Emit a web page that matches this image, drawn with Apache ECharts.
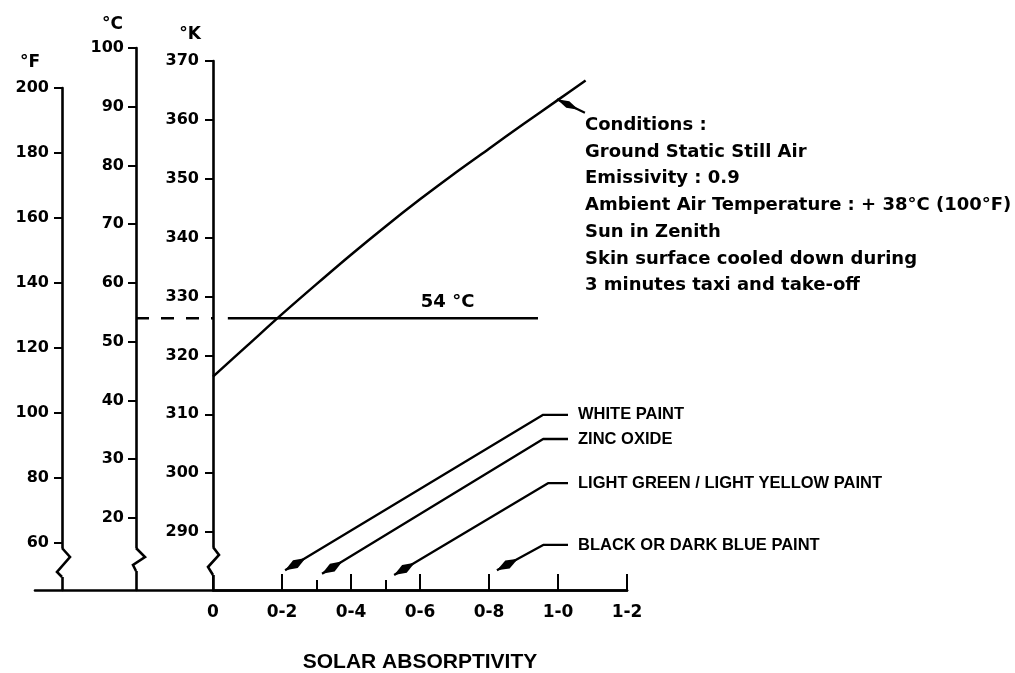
<!DOCTYPE html>
<html>
<head>
<meta charset="utf-8">
<script src="https://cdn.jsdelivr.net/npm/echarts@6/dist/echarts.min.js"></script>
<style>
html,body{margin:0;padding:0;background:#fff;}
#c{width:1015px;height:673px;}
</style>
</head>
<body>
<div id="c"></div>
<script>
// ---------- data ----------
const absorptivity = [0, 0.1, 0.2, 0.3, 0.4, 0.5, 0.6, 0.7, 0.8, 0.9, 1.0, 1.08];
const skinTempK    = [316.4, 321.7, 327.0, 332.1, 337.1, 341.9, 346.5, 350.9, 355.1, 359.3, 363.4, 366.7];

const fTicks = [60, 80, 100, 120, 140, 160, 180, 200];
const cTicks = [20, 30, 40, 50, 60, 70, 80, 90, 100];
const kTicks = [290, 300, 310, 320, 330, 340, 350, 360, 370];
const xTickValues = [0, 0.2, 0.4, 0.6, 0.8, 1.0, 1.2];
const xTickLabels = ['0', '0-2', '0-4', '0-6', '0-8', '1-0', '1-2'];
const xMinorTicks = [0.3, 0.5];

const limitC = 54;
const limitLabel = '54 °C';
const limitDashA = [-0.2232, 0];
const limitSolidA = [0.043, 0.942];

const calloutNames  = ['WHITE PAINT', 'ZINC OXIDE', 'LIGHT GREEN / LIGHT YELLOW PAINT', 'BLACK OR DARK BLUE PAINT'];
const calloutTipA   = [0.209, 0.316, 0.525, 0.823];
const calloutTipK   = [283.5, 282.9, 282.7, 283.5];
const calloutBendA  = [0.957, 0.957, 0.971, 0.957];
const calloutLevelK = [309.9, 305.8, 298.3, 287.8];
const calloutEndA   = 1.029;

const conditionsLines = [
  'Conditions :',
  'Ground Static Still Air',
  'Emissivity : 0.9',
  'Ambient Air Temperature : + 38°C (100°F)',
  'Sun in Zenith',
  'Skin surface cooled down during',
  '3 minutes taxi and take-off'
];
const conditionsArrowFrom = [1.078, 361.2];
const conditionsArrowTo   = [0.997, 363.5];
const xAxisTitle = 'SOLAR ABSORPTIVITY';

// ---------- layout ----------
const NUM_FONT = 'DejaVu Sans';
const LBL_FONT = 'Liberation Sans';
const X0 = 213, PX_PER_UNIT = 345, X_RIGHT = 627, BASE_Y = 590, W = 1015, H = 673;
const xMinFor = px => -(X0 - px) / PX_PER_UNIT;
const BLACK = '#000';

function yAx(gridIndex, min, max, ticks, name, nameGap, namePad, margin) {
  return {
    type: 'value', gridIndex, min, max, position: 'left',
    axisLine: { show: true, onZero: false, lineStyle: { color: BLACK, width: 2.6 } },
    axisTick: { show: true, customValues: ticks, length: 8, lineStyle: { color: BLACK, width: 2 } },
    axisLabel: { show: true, customValues: ticks, margin, color: BLACK, fontSize: 16, fontWeight: 'bold', fontFamily: NUM_FONT },
    splitLine: { show: false },
    name, nameLocation: 'end', nameGap,
    nameTextStyle: { align: 'right', padding: [0, namePad, 0, 0], color: BLACK, fontSize: 17, fontWeight: 'bold', fontFamily: NUM_FONT }
  };
}

const calloutSeries = calloutNames.map((n, i) => ({
  name: n, type: 'line', xAxisIndex: 0, yAxisIndex: 0, silent: true,
  symbol: 'none', smooth: false,
  lineStyle: { color: BLACK, width: 2.3 },
  data: [[calloutTipA[i], calloutTipK[i]], [calloutBendA[i], calloutLevelK[i]], [calloutEndA, calloutLevelK[i]]],
  endLabel: { show: true, formatter: '{a}', distance: 10, color: BLACK, fontSize: 16.5, fontWeight: 'bold', fontFamily: LBL_FONT }
}));

const option = {
  animation: false,
  backgroundColor: '#fff',
  grid: [
    { left: X0, right: W - X_RIGHT, top: 61, bottom: H - BASE_Y, outerBoundsMode: 'none' },
    { left: 136, right: W - X_RIGHT, top: 48, bottom: H - BASE_Y, outerBoundsMode: 'none' },
    { left: 62, right: W - X_RIGHT, top: 88, bottom: H - BASE_Y, outerBoundsMode: 'none' },
    { left: 35, right: W - X_RIGHT, top: BASE_Y - 10, bottom: H - BASE_Y, outerBoundsMode: 'none' }
  ],
  xAxis: [
    { type: 'value', gridIndex: 0, min: 0, max: 1.2, position: 'bottom',
      axisLine: { onZero: false, lineStyle: { color: BLACK, width: 2.6 } },
      axisTick: { customValues: xTickValues, inside: true, length: 16, lineStyle: { color: BLACK, width: 2 } },
      axisLabel: { customValues: xTickValues, margin: 14, color: BLACK, fontSize: 17, fontWeight: 'bold', fontFamily: NUM_FONT,
        formatter: v => { const k = xTickValues.findIndex(t => Math.abs(t - v) < 1e-6); return k >= 0 ? xTickLabels[k] : ''; } },
      splitLine: { show: false } },
    { type: 'value', gridIndex: 0, min: 0, max: 1.2, position: 'bottom',
      axisLine: { show: false, onZero: false },
      axisTick: { customValues: xMinorTicks, inside: true, length: 10, lineStyle: { color: BLACK, width: 2 } },
      axisLabel: { show: false }, splitLine: { show: false } },
    { type: 'value', gridIndex: 1, min: xMinFor(136), max: 1.2, show: false },
    { type: 'value', gridIndex: 2, min: 0, max: 1, show: false },
    { type: 'value', gridIndex: 3, min: 0, max: 1, position: 'bottom',
      axisLine: { onZero: false, lineStyle: { color: BLACK, width: 2.6 } },
      axisTick: { show: false }, axisLabel: { show: false }, splitLine: { show: false } }
  ],
  yAxis: [
    yAx(0, 280.15, 370, kTicks, '°K', 18, 12, 14),
    yAx(1, 7.74, 100, cTicks, '°C', 15, 13, 12),
    yAx(2, 45.54, 200, fTicks, '°F', 17, 22, 13),
    { type: 'value', gridIndex: 3, min: 0, max: 1, show: false }
  ],
  series: [
    { name: 'skin', type: 'line', xAxisIndex: 0, yAxisIndex: 0, silent: true,
      symbol: 'none', smooth: 0.3,
      lineStyle: { color: BLACK, width: 2.5 },
      data: absorptivity.map((a, i) => [a, skinTempK[i]]) },
    { name: 'limitDash', type: 'line', xAxisIndex: 2, yAxisIndex: 1, silent: true, symbol: 'none',
      lineStyle: { color: BLACK, width: 2.3, type: [13, 12] },
      data: limitDashA.map(a => [a, limitC]) },
    { name: 'limitSolid', type: 'line', xAxisIndex: 2, yAxisIndex: 1, silent: true, symbol: 'none',
      lineStyle: { color: BLACK, width: 2.3 },
      data: limitSolidA.map(a => [a, limitC]) },
    ...calloutSeries,
    { name: 'conditionsLeader', type: 'line', xAxisIndex: 0, yAxisIndex: 0, silent: true, symbol: 'none',
      lineStyle: { color: BLACK, width: 2.2 },
      data: [conditionsArrowFrom, conditionsArrowTo] },
    { name: 'f', type: 'line', xAxisIndex: 3, yAxisIndex: 2, data: [] },
    { name: 'base', type: 'line', xAxisIndex: 4, yAxisIndex: 3, data: [] }
  ]
};

const chart = echarts.init(document.getElementById('c'));
chart.setOption(option);

// ---------- decorations (axis breaks, arrow heads, free text) ----------
function zig(x, y0, pts) {
  return [
    { type: 'rect', z: 100, shape: { x: x - 4, y: y0, width: 8, height: pts[pts.length - 1][1] }, style: { fill: '#fff' } },
    { type: 'polyline', z: 101, shape: { points: pts.map(p => [x + p[0], y0 + p[1]]) }, style: { stroke: BLACK, lineWidth: 2.6, fill: null } }
  ];
}
function arrowHead(tip, from, L, w) {
  const dx = tip[0] - from[0], dy = tip[1] - from[1];
  const len = Math.hypot(dx, dy), ux = dx / len, uy = dy / len, nx = -uy, ny = ux;
  const m = [tip[0] - ux * L * 0.5, tip[1] - uy * L * 0.5];
  const b = [tip[0] - ux * L, tip[1] - uy * L];
  return { type: 'polygon', z: 102,
    shape: { points: [tip, [m[0] + nx * w / 2, m[1] + ny * w / 2], b, [m[0] - nx * w / 2, m[1] - ny * w / 2]] },
    style: { fill: BLACK } };
}
const toPx = v => chart.convertToPixel({ xAxisIndex: 0, yAxisIndex: 0 }, v);
const kx = toPx([0, 300])[0];
const limitPx = chart.convertToPixel({ xAxisIndex: 2, yAxisIndex: 1 }, [0.68, limitC]);
const graphics = [
  ...zig(62, 548, [[0, 0], [8, 9], [-5, 24], [0, 29]]),
  ...zig(136, 548, [[0, 0], [9, 9], [-3, 17], [0, 23]]),
  ...zig(kx, 547, [[0, 0], [6, 8], [-5, 20], [0, 28]]),
  ...calloutNames.map((n, i) => arrowHead(toPx([calloutTipA[i], calloutTipK[i]]), toPx([calloutBendA[i], calloutLevelK[i]]), 24, 9)),
  arrowHead(toPx(conditionsArrowTo), toPx(conditionsArrowFrom), 24, 7),
  { type: 'text', z: 102, x: limitPx[0], y: limitPx[1] - 16,
    style: { text: limitLabel, fill: BLACK, font: 'bold 18px "DejaVu Sans"', textAlign: 'center', textVerticalAlign: 'middle' } },
  { type: 'text', z: 102, x: 585, y: 112,
    style: { text: conditionsLines.join('\n'), fill: BLACK, font: 'bold 18px "DejaVu Sans"', lineHeight: 26.7, textAlign: 'left', textVerticalAlign: 'top' } },
  { type: 'text', z: 102, x: (X0 + X_RIGHT) / 2, y: 662,
    style: { text: xAxisTitle, fill: BLACK, font: 'bold 21px "Liberation Sans"', textAlign: 'center', textVerticalAlign: 'middle' } }
];
chart.setOption({ graphic: graphics });
</script>
</body>
</html>
